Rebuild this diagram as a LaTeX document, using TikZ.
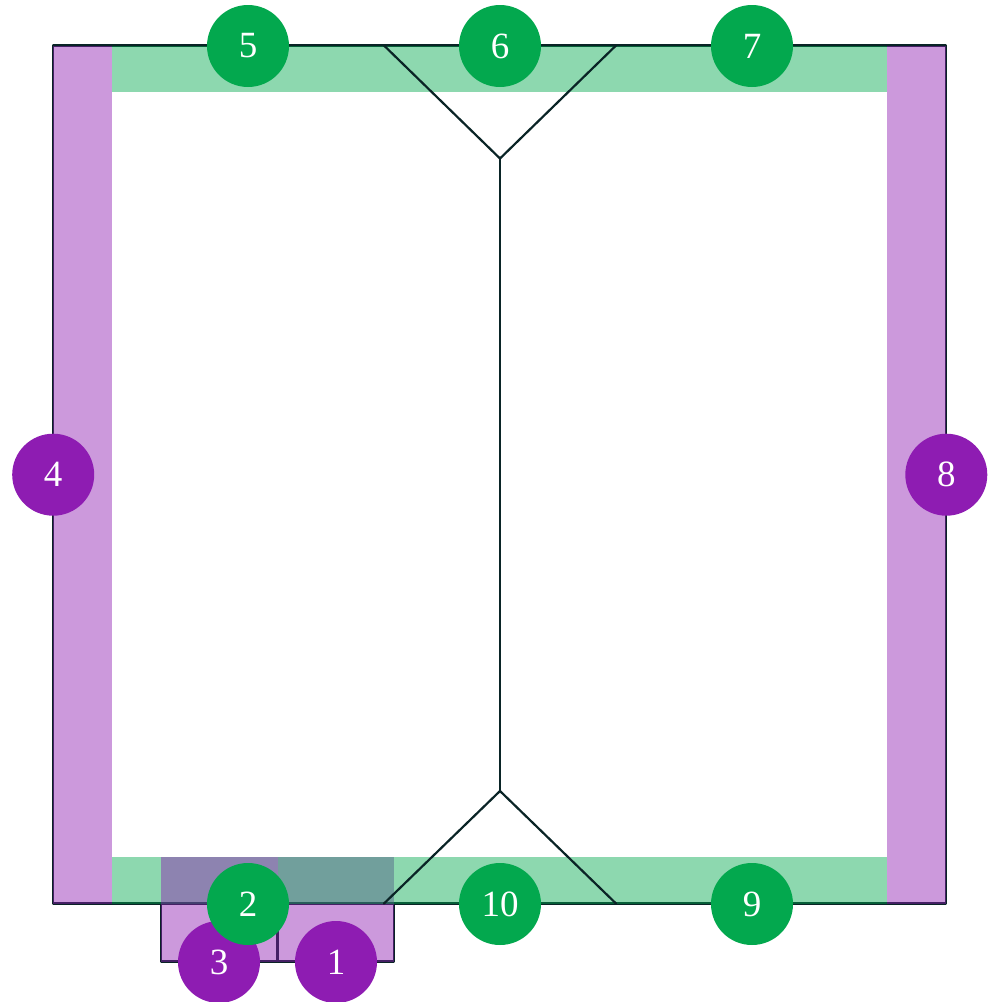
\documentclass[tikz,border=0pt]{standalone}
\usepackage{fontspec}
\setmainfont{Liberation Serif}
\definecolor{vio}{HTML}{8E1CB2}
\definecolor{grn}{HTML}{03A84E}
\definecolor{ink}{HTML}{0A2426}
\tikzset{
  x=1pt,y=-1pt,
  vband/.style={fill=vio,fill opacity=.45,draw=none},
  gband/.style={fill=grn,fill opacity=.45,draw=none},
  edge/.style={draw=ink,line width=2.2pt,line cap=round,line join=round},
  vcirc/.style={circle,fill=vio,inner sep=0pt,minimum size=82pt,text=white,font=\fontsize{37}{37}\selectfont},
  gcirc/.style={circle,fill=grn,inner sep=0pt,minimum size=82pt,text=white,font=\fontsize{37}{37}\selectfont}
}
\begin{document}
\begin{tikzpicture}
\useasboundingbox (0,0) rectangle (993,1002);
% anchor points
\coordinate (tl) at (53.3,45.5);
\coordinate (tr) at (946.3,45.5);
\coordinate (bl) at (53.3,903.5);
\coordinate (br) at (946.3,903.5);
\coordinate (ta) at (384,45.5);
\coordinate (tb) at (616,45.5);
\coordinate (tc) at (500,158.5);
\coordinate (ba) at (384,903.5);
\coordinate (bb) at (616,903.5);
\coordinate (bc) at (500,791);
\coordinate (p1) at (160.7,903.5);
\coordinate (p2) at (160.7,961.5);
\coordinate (p3) at (277.5,961.5);
\coordinate (p4) at (277.5,903.5);
\coordinate (p5) at (394.3,961.5);
\coordinate (p6) at (394.3,903.5);
% lines under the tints
\draw[edge] (bl) -- (tl) -- (tr) -- (br) -- cycle;
\draw[edge] (p1) -- (p2) -- (p3) -- (p4);
\draw[edge] (p3) -- (p5) -- (p6);
% purple bands
\fill[vband] (53.3,45.5) rectangle (112.3,903.5);
\fill[vband] (887,45.5) rectangle (946.3,903.5);
\fill[vband] (277.5,857) rectangle (394.3,961.5);
% green bands
\fill[gband] (112.3,45.5) rectangle (887,91.5);
\fill[gband] (112.3,857) rectangle (887,903.5);
\fill[vband] (160.7,857) rectangle (277.5,961.5);
% lines over the tints
\draw[edge] (ta) -- (tc) -- (tb);
\draw[edge] (tc) -- (bc);
\draw[edge] (ba) -- (bc) -- (bb);
% circles
\node[vcirc] (n3) at (219,962) {3};
\node[vcirc] (n1) at (336,962) {1};
\node[gcirc] (n2) at (248,904) {2};
\node[vcirc] (n4) at (53.2,474.7) {4};
\node[gcirc] (n5) at (248,46) {5};
\node[gcirc] (n6) at (500,46) {6};
\node[gcirc] (n7) at (752,46) {7};
\node[vcirc] (n8) at (946.3,474.7) {8};
\node[gcirc] (n9) at (752,904) {9};
\node[gcirc] (n10) at (500,904) {10};
\end{tikzpicture}
\end{document}
